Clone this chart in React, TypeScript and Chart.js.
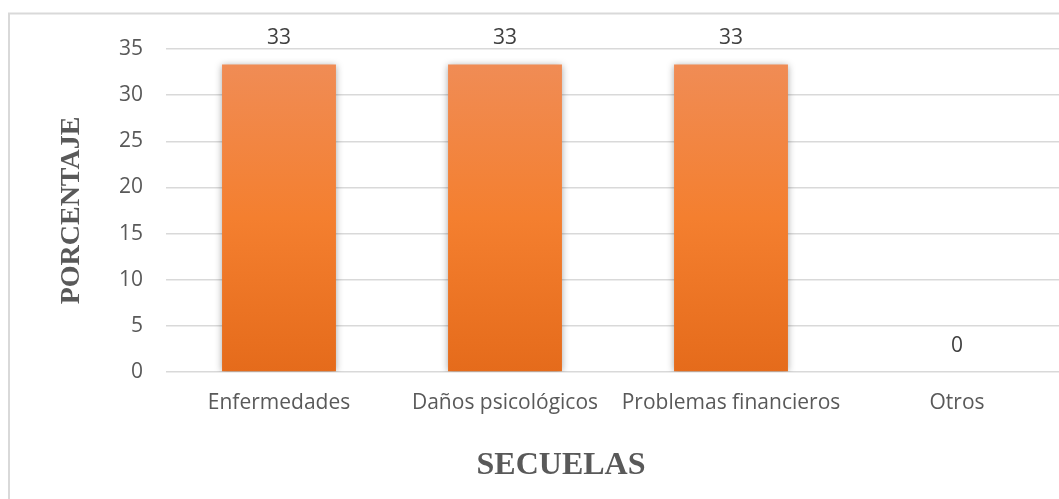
import React, { useEffect, useRef } from "react";
import { Chart, registerables } from "chart.js";

Chart.register(...registerables);

const categories = ["Enfermedades", "Daños psicológicos", "Problemas financieros", "Otros"];
const values = [33.33, 33.33, 33.33, 0];
const yMin = 0;
const yMax = 35;
const yStep = 5;
const xTitle = "SECUELAS";
const yTitle = "PORCENTAJE";

const TICK_FONT = "'Open Sans', 'DejaVu Sans', sans-serif";
const TITLE_FONT = "'Liberation Serif', 'DejaVu Serif', serif";

export default function App() {
  const ref = useRef<HTMLCanvasElement | null>(null);

  useEffect(() => {
    const canvas = ref.current;
    if (!canvas) return;

    const framePlugin = {
      id: "frame",
      beforeDraw(chart: any) {
        const ctx = chart.ctx;
        ctx.save();
        ctx.fillStyle = "#ffffff";
        ctx.fillRect(0, 0, chart.width, chart.height);
        ctx.strokeStyle = "#d9d9d9";
        ctx.lineWidth = 2;
        ctx.strokeRect(9, 13.5, 2000, 2000);
        ctx.restore();
      },
      afterDraw(chart: any) {
        const ctx = chart.ctx;
        const area = chart.chartArea;
        ctx.save();
        ctx.fillStyle = "#595959";
        ctx.textAlign = "center";
        ctx.textBaseline = "middle";
        ctx.font = `bold 32px ${TITLE_FONT}`;
        ctx.fillText(xTitle, 561, 466);
        ctx.translate(72, (area.top + area.bottom) / 2);
        ctx.rotate(-Math.PI / 2);
        ctx.font = `bold 28px ${TITLE_FONT}`;
        ctx.fillText(yTitle, 0, 0);
        ctx.restore();
      },
    };

    const shadowPlugin = {
      id: "barShadow",
      beforeDatasetsDraw(chart: any) {
        const ctx = chart.ctx;
        ctx.save();
        ctx.shadowColor = "rgba(0,0,0,0.35)";
        ctx.shadowBlur = 7;
        ctx.shadowOffsetX = 0;
        ctx.shadowOffsetY = 1;
      },
      afterDatasetsDraw(chart: any) {
        const ctx = chart.ctx;
        ctx.restore();
        ctx.save();
        ctx.fillStyle = "#404040";
        ctx.font = `21px ${TICK_FONT}`;
        ctx.textAlign = "center";
        ctx.textBaseline = "middle";
        const meta = chart.getDatasetMeta(0);
        meta.data.forEach((el: any, i: number) => {
          const v = chart.data.datasets[0].data[i] as number;
          ctx.fillText(String(Math.round(v)), el.x, el.y - 26);
        });
        ctx.restore();
      },
    };

    const chart = new Chart(canvas, {
      type: "bar",
      data: {
        labels: categories,
        datasets: [
          {
            data: values,
            backgroundColor: (context: any) => {
              const c = context.chart;
              const y = c.scales?.y;
              if (!y || !c.chartArea) return "#f07d2e";
              const top = y.getPixelForValue(Math.max(...values));
              const bottom = y.getPixelForValue(0);
              const g = c.ctx.createLinearGradient(0, top, 0, bottom);
              g.addColorStop(0, "#f08c55");
              g.addColorStop(0.5, "#f47f2f");
              g.addColorStop(1, "#e56b1b");
              return g;
            },
            borderWidth: 0,
            categoryPercentage: 1,
            barPercentage: 0.504,
          },
        ],
      },
      options: {
        responsive: false,
        animation: false,
        devicePixelRatio: 1,
        layout: { padding: { left: 0, right: 20, top: 49, bottom: 0 } },
        plugins: {
          legend: { display: false },
          tooltip: { enabled: false },
          title: { display: false },
        },
        scales: {
          x: {
            grid: { display: false, drawTicks: false },
            border: { display: false },
            ticks: {
              color: "#595959",
              font: { family: TICK_FONT, size: 21 },
              padding: 18,
              maxRotation: 0,
              autoSkip: false,
            },
            afterFit: (scale: any) => {
              scale.height = 127;
            },
          },
          y: {
            min: yMin,
            max: yMax,
            grid: { color: "#d9d9d9", lineWidth: 1.5, drawTicks: false },
            border: { display: false },
            ticks: {
              stepSize: yStep,
              color: "#595959",
              font: { family: TICK_FONT, size: 21 },
              padding: 23,
            },
            afterFit: (scale: any) => {
              scale.width = 166;
            },
          },
        },
      },
      plugins: [framePlugin, shadowPlugin],
    });

    return () => chart.destroy();
  }, []);

  return (
    <div
      style={{
        position: "absolute",
        left: 0,
        top: 0,
        width: 1059,
        height: 499,
        overflow: "hidden",
        background: "#ffffff",
      }}
    >
      <canvas ref={ref} width={1090} height={499} style={{ width: 1090, height: 499, display: "block" }} />
    </div>
  );
}
